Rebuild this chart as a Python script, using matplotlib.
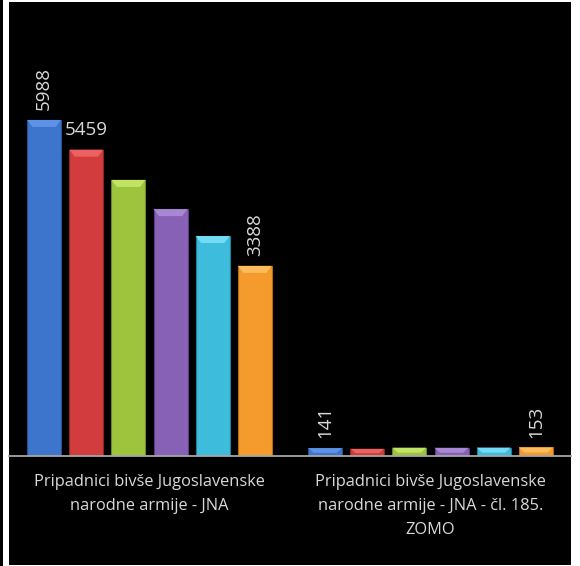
import matplotlib
matplotlib.use("Agg")
import matplotlib.pyplot as plt
from matplotlib.patches import Rectangle, Polygon
import numpy as np

categories = ["Pripadnici bivše Jugoslavenske\nnarodne armije - JNA",
              "Pripadnici bivše Jugoslavenske\nnarodne armije - JNA - čl. 185.\nZOMO"]
# six series, one value per category
series_values = [
    [5988, 141],
    [5459, 128],
    [4920, 148],
    [4400, 146],
    [3920, 150],
    [3388, 153],
]
# which bars carry a data label (series, category, rotated)
labels_shown = [(0, 0, True), (1, 0, False), (5, 0, True), (0, 1, True), (5, 1, True)]

face_colors = ["#3d74cc", "#d23c3c", "#9ec43e", "#8761b5", "#3dbcdc", "#f59a2c"]
top_colors = ["#5d92e6", "#ec6262", "#c2e466", "#a888d4", "#72dcf4", "#fcbc5c"]
edge_colors = ["#24508f", "#8f2525", "#6b8a25", "#5a3f80", "#24809a", "#b56a14"]

W, H = 580, 566
fig = plt.figure(figsize=(W / 100, H / 100), dpi=100, facecolor="white")

# black panel behind the chart
fig.patches.append(Rectangle((9 / W, 1 / H), 562 / W, 563 / H, transform=fig.transFigure,
                             facecolor="black", edgecolor="none", zorder=-10))
fig.patches.append(Rectangle((0, 0), 3 / W, 1, transform=fig.transFigure,
                             facecolor="black", edgecolor="none", zorder=-10))

ax = fig.add_axes([9 / W, (H - 456) / H, 562 / W, 454 / H])
ax.set_facecolor("black")
ax.patch.set_alpha(0)

x = np.arange(len(categories))
step = 0.15
width = 0.121
ymax = 8090
bevel = 7 * ymax / 454  # about 7px

for i, vals in enumerate(series_values):
    pos = x + (i - 2.5) * step
    bars = ax.bar(pos, vals, width=width, color=face_colors[i], edgecolor=edge_colors[i],
                  linewidth=0.8, zorder=2)
    for b in bars:
        x0, w, h = b.get_x(), b.get_width(), b.get_height()
        bh = min(bevel, h * 0.6)
        inset = w * 0.16
        ax.add_patch(Polygon([(x0, h), (x0 + w, h), (x0 + w - inset, h - bh), (x0 + inset, h - bh)],
                             closed=True, facecolor=top_colors[i], edgecolor="none", zorder=3))

for s, c, rot in labels_shown:
    pos = x[c] + (s - 2.5) * step
    val = series_values[s][c]
    if rot:
        ax.annotate(str(val), (pos, val), xytext=(0, 7), textcoords="offset points",
                    rotation=90, ha="center", va="bottom", color="#d9d9d9",
                    fontsize=13.5, family="Open Sans")
    else:
        ax.annotate(str(val), (pos, val), xytext=(0, 8), textcoords="offset points",
                    ha="center", va="bottom", color="#d9d9d9",
                    fontsize=13.5, family="Open Sans")

ax.set_xlim(-0.5, 1.5)
ax.set_ylim(0, ymax)
ax.set_xticks(x)
ax.set_xticklabels(categories, color="#d9d9d9", fontsize=11.8, family="Open Sans",
                   linespacing=1.65)
ax.tick_params(axis="x", length=0, pad=13)
ax.set_yticks([])
for sp in ["top", "left", "right"]:
    ax.spines[sp].set_visible(False)
ax.spines["bottom"].set_color("#a6a6a6")
ax.spines["bottom"].set_linewidth(1.3)
ax.spines["bottom"].set_zorder(4)

fig.savefig("out.png", dpi=100, facecolor="white")
